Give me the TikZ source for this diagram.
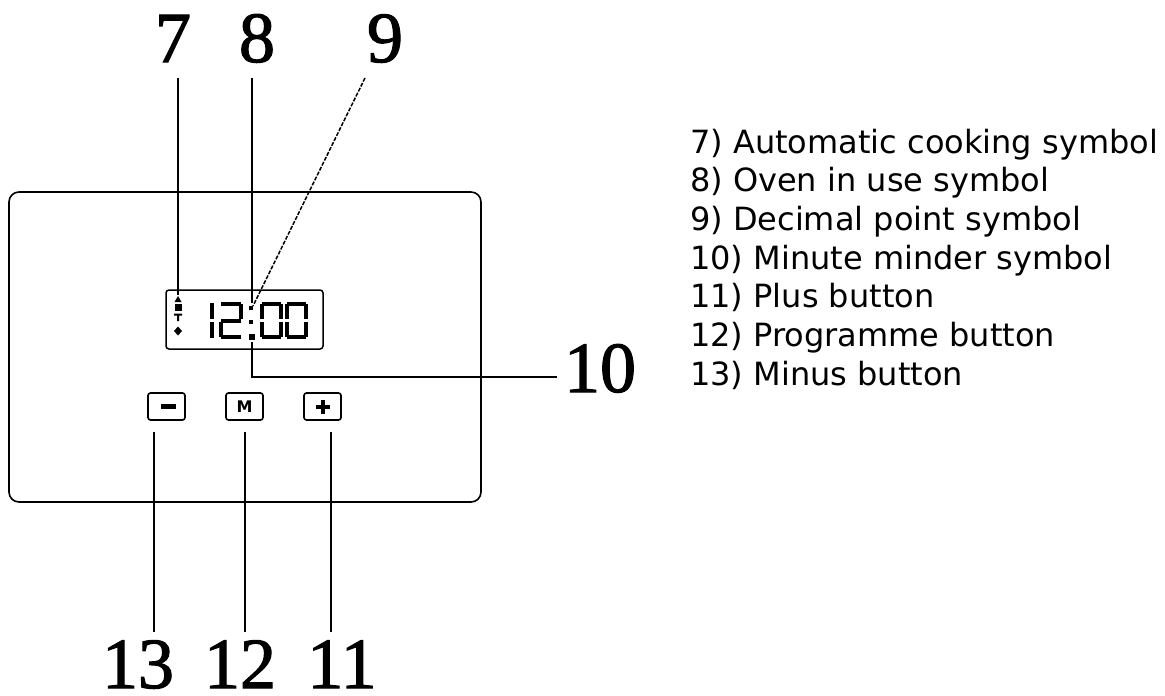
\documentclass[tikz,border=0pt]{standalone}
\usepackage{fontspec}
\setmainfont{Liberation Serif}
\newfontfamily\numfont[FakeBold=1.6]{Liberation Serif}
\newfontfamily\listfont{DejaVu Sans}
\begin{document}
\begin{tikzpicture}[x=1pt,y=-1pt,
  frame/.style={draw,line width=1.6pt,rounded corners=10pt},
  lcdframe/.style={draw,line width=1.5pt,rounded corners=3pt},
  btn/.style={draw,line width=1.6pt,rounded corners=2.5pt,minimum width=37pt,minimum height=27pt,inner sep=0pt},
  leader/.style={line width=1.3pt},
  dashleader/.style={line width=1.5pt,dash pattern=on 4pt off 1.5pt},
  biglabel/.style={font=\numfont\fontsize{72}{72}\selectfont,inner sep=0pt,anchor=base},
  listitem/.style={font=\listfont\fontsize{32}{38}\selectfont,inner sep=0pt,anchor=base west},
  lcdzero/.pic={
    \fill (2,0) rectangle (21,4);
    \fill (0,2) rectangle (4,17);
    \fill (19,2) rectangle (23,17);
    \fill (0,20) rectangle (4,35);
    \fill (19,20) rectangle (23,35);
    \fill (2,33) rectangle (21,37);
  }]
\useasboundingbox (0,0) rectangle (1165,696);

% outer panel and display window
\draw[frame] (9,192) rectangle (481,502);
\draw[lcdframe] (166,290) rectangle (323,349);

% status symbols column
\fill (174.5,302) -- (178,296) -- (181.5,302) -- cycle;
\fill (174.5,304) rectangle (181.5,311);
\fill (174,313.5) -- (182,313.5) -- (182,315.5) -- (179,315.5) -- (179,321) -- (177,321) -- (177,315.5) -- (174,315.5) -- cycle;
\fill (178,326.5) -- (182,331) -- (178,335.5) -- (174,331) -- cycle;

% digit 1
\fill (210,303) rectangle (214,319);
\fill (210,322) rectangle (214,338);
% digit 2
\fill (221,302) rectangle (241,306);
\fill (239,304) rectangle (243,319);
\fill (221,318.5) rectangle (241,322.5);
\fill (219,322) rectangle (223,337);
\fill (221,335) rectangle (241,339);
% colon and minute minder dot
\fill (249,306) rectangle (253,310);
\fill (249,320) rectangle (253,324);
\fill (248.5,333.5) rectangle (254.5,340);
% digits 0 0
\pic at (260,302) {lcdzero};
\pic at (285,302) {lcdzero};

% buttons
\node[btn] (bminus) at (166.5,406.5) {};
\fill (161,403.5) rectangle (176,408.5);
\node[btn,font=\listfont\bfseries\fontsize{16}{16}\selectfont] (bprog) at (244.5,406.5) {M};
\node[btn] (bplus) at (322.5,406.5) {};
\fill (315.5,404.5) rectangle (329.5,408.5);
\fill (320.5,399.5) rectangle (324.5,413.5);

% callout numbers
\node[biglabel] (l7) at (173,62) {7};
\node[biglabel] (l8) at (257,62) {8};
\node[biglabel] (l9) at (385,62) {9};
\node[biglabel] (l10) at (600,392) {10};
\node[biglabel] (l13) at (138,688) {13};
\node[biglabel] (l12) at (240,688) {12};
\node[biglabel] (l11) at (342,688) {11};

% leader end points
\coordinate (a7) at (178,78);   \coordinate (e7) at (178,295);
\coordinate (a8) at (252,78);   \coordinate (e8) at (252,303);
\coordinate (a9) at (365,78);   \coordinate (e9) at (253,306);
\coordinate (e10) at (252,342); \coordinate (k10) at (252,377); \coordinate (a10) at (557,377);
\coordinate (e13) at (154,432); \coordinate (a13) at (154,632);
\coordinate (e12) at (245,432); \coordinate (a12) at (245,632);
\coordinate (e11) at (331,432); \coordinate (a11) at (331,632);

\draw[leader] (a7) -- (e7);
\draw[leader] (a8) -- (e8);
\draw[dashleader] (a9) -- (e9);
\draw[leader] (e10) -- (k10) -- (a10);
\draw[leader] (e13) -- (a13);
\draw[leader] (e12) -- (a12);
\draw[leader] (e11) -- (a11);

% legend
\node[listitem] (t7) at (690,153) {7) Automatic cooking symbol};
\node[listitem] (t8) at (690,191.5) {8) Oven in use symbol};
\node[listitem] (t9) at (690,230) {9) Decimal point symbol};
\node[listitem] (t10) at (690,269) {10) Minute minder symbol};
\node[listitem] (t11) at (690,307.5) {11) Plus button};
\node[listitem] (t12) at (690,346) {12) Programme button};
\node[listitem] (t13) at (690,385) {13) Minus button};
\end{tikzpicture}
\end{document}
